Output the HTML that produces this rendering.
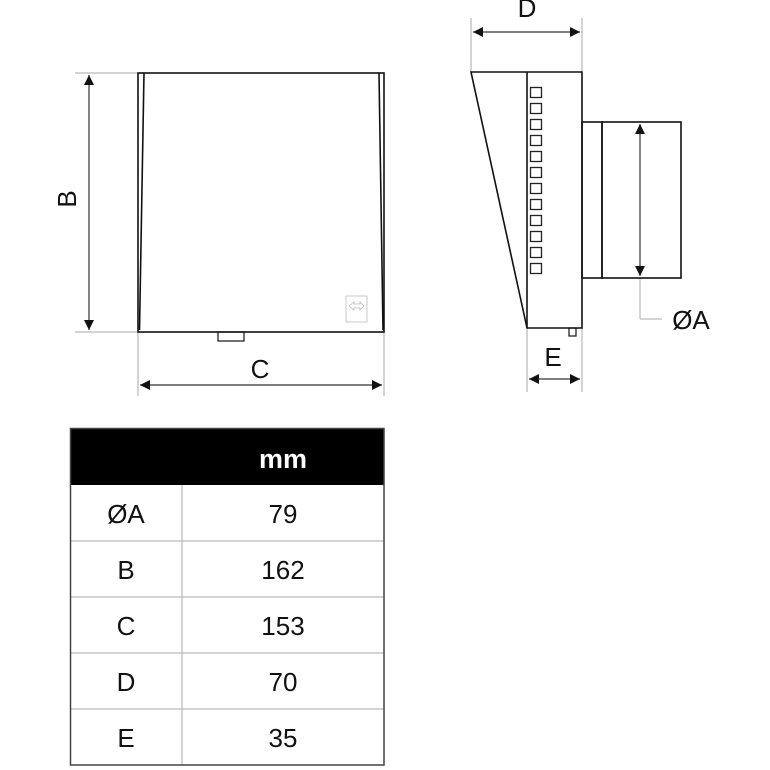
<!DOCTYPE html>
<html><head><meta charset="utf-8"><style>
html,body{margin:0;padding:0;background:#fff;}
svg{display:block;}
text{font-family:"Liberation Sans",sans-serif;fill:#111;}
</style></head><body>
<svg width="770" height="770" viewBox="0 0 770 770" xmlns="http://www.w3.org/2000/svg">
<defs>
<marker id="a" viewBox="0 0 10 10" refX="10" refY="5" markerWidth="10" markerHeight="10" markerUnits="userSpaceOnUse" orient="auto-start-reverse"><path d="M0,0 L10,5 L0,10z" fill="#111"/></marker>
</defs>
<g stroke="#aaa" stroke-width="1" fill="none">
<line x1="75" y1="73" x2="138" y2="73"/><line x1="75" y1="332" x2="138" y2="332"/>
<line x1="138" y1="332" x2="138" y2="396"/><line x1="384" y1="332" x2="384" y2="396"/>
<line x1="471" y1="18" x2="471" y2="72"/><line x1="582" y1="18" x2="582" y2="72"/>
<line x1="527" y1="328" x2="527" y2="392"/><line x1="582" y1="328" x2="582" y2="392"/>
<line x1="640" y1="278" x2="640" y2="319"/><line x1="640" y1="319" x2="662" y2="319"/>
</g>
<g stroke="#333" stroke-width="1.2" fill="none">
<line x1="89" y1="75" x2="89" y2="330" marker-start="url(#a)" marker-end="url(#a)"/>
<line x1="140" y1="385" x2="382" y2="385" marker-start="url(#a)" marker-end="url(#a)"/>
<line x1="473" y1="32" x2="580" y2="32" marker-start="url(#a)" marker-end="url(#a)"/>
<line x1="529" y1="379" x2="580" y2="379" marker-start="url(#a)" marker-end="url(#a)"/>
<line x1="640" y1="124" x2="640" y2="276" marker-start="url(#a)" marker-end="url(#a)"/>
</g>
<g stroke="#111" stroke-width="1.6" fill="none">
<rect x="138" y="73" width="246" height="259"/>
<line x1="144" y1="73" x2="139.5" y2="330"/>
<line x1="379" y1="73" x2="383" y2="330"/>
<rect x="218" y="332" width="26" height="9" stroke-width="1.2"/>
<polygon points="471,72 582,72 582,328 527,328"/>
<line x1="527" y1="72" x2="527" y2="328"/>
<rect x="582" y="122" width="20" height="156"/>
<rect x="602" y="122" width="79" height="156"/>
<rect x="569" y="328" width="7" height="8" stroke-width="1.2"/>
</g>
<g stroke="#222" stroke-width="1.3" fill="none">
<rect x="530.5" y="87.5" width="11" height="10"/><rect x="530.5" y="103.5" width="11" height="10"/>
<rect x="530.5" y="119.5" width="11" height="10"/><rect x="530.5" y="135.5" width="11" height="10"/>
<rect x="530.5" y="151.5" width="11" height="10"/><rect x="530.5" y="167.5" width="11" height="10"/>
<rect x="530.5" y="183.5" width="11" height="10"/><rect x="530.5" y="199.5" width="11" height="10"/>
<rect x="530.5" y="215.5" width="11" height="10"/><rect x="530.5" y="231.5" width="11" height="10"/>
<rect x="530.5" y="247.5" width="11" height="10"/><rect x="530.5" y="263.5" width="11" height="10"/>
</g>
<g stroke="#bbb" stroke-width="0.8" fill="none">
<rect x="346" y="296" width="21" height="26"/>
<path d="M349,306 L354,302 L354,304 L360,304 L360,302 L364,306 L360,310 L360,308 L354,308 L354,310z"/>
</g>
<text x="67" y="199" font-size="26" text-anchor="middle" dominant-baseline="central" transform="rotate(-90 67 199)">B</text>
<text x="260" y="378" font-size="26" text-anchor="middle">C</text>
<text x="527" y="17" font-size="26" text-anchor="middle">D</text>
<text x="553" y="366" font-size="26" text-anchor="middle">E</text>
<text x="691" y="329" font-size="26" text-anchor="middle">ØA</text>
<rect x="70" y="428" width="314" height="57" fill="#000"/>
<g stroke="#aaa" stroke-width="1">
<line x1="70" y1="541" x2="384" y2="541"/><line x1="70" y1="597" x2="384" y2="597"/>
<line x1="70" y1="653" x2="384" y2="653"/><line x1="70" y1="709" x2="384" y2="709"/>
<line x1="182" y1="485" x2="182" y2="765"/>
</g>
<rect x="70.5" y="428.5" width="313.5" height="336.5" fill="none" stroke="#444" stroke-width="1.5"/>
<text x="283" y="468" font-size="27" font-weight="bold" text-anchor="middle" style="fill:#fff">mm</text>
<g font-size="26" text-anchor="middle">
<text x="126" y="523">ØA</text><text x="283" y="523">79</text>
<text x="126" y="579">B</text><text x="283" y="579">162</text>
<text x="126" y="635">C</text><text x="283" y="635">153</text>
<text x="126" y="691">D</text><text x="283" y="691">70</text>
<text x="126" y="747">E</text><text x="283" y="747">35</text>
</g>
</svg>
</body></html>
